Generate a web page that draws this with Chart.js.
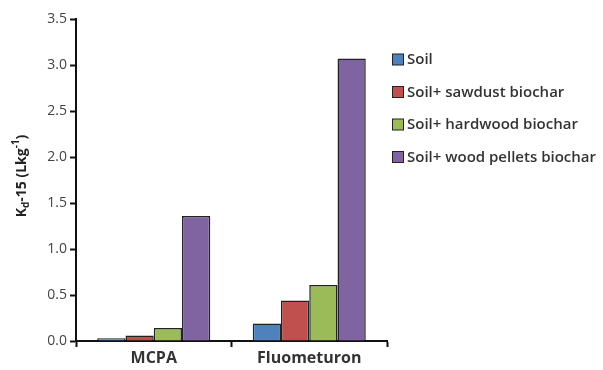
<!DOCTYPE html>
<html>
<head>
<meta charset="utf-8">
<script src="https://cdn.jsdelivr.net/npm/chart.js@4"></script>
<style>
  html, body { margin: 0; padding: 0; background: #fff; }
  #wrap { width: 603px; height: 370px; }
</style>
</head>
<body>
<div id="wrap"><canvas id="kd-chart"></canvas></div>
<script>
var herbicides = ['MCPA', 'Fluometuron'];

var soil = [0.03, 0.19];
var soil_sawdust = [0.06, 0.44];
var soil_hardwood = [0.14, 0.61];
var soil_pellets = [1.36, 3.07];

var series_names = ['Soil', 'Soil+ sawdust biochar', 'Soil+ hardwood biochar', 'Soil+ wood pellets biochar'];
var series_colors = ['#4F81BD', '#C0504D', '#9BBB59', '#8064A2'];

var font_family = '"Open Sans", Lato, sans-serif';

// y axis title with subscript d and superscript -1, drawn rotated
var axisTitle = {
   id: 'axisTitle',
   afterDraw: function (chart) {
      var ctx = chart.ctx;
      var parts = [
         { t: 'K', size: 14, dy: 0 },
         { t: 'd', size: 10, dy: 4 },
         { t: '-15 (Lkg', size: 14, dy: 0 },
         { t: '-1', size: 10, dy: -6 },
         { t: ')', size: 14, dy: 0 }
      ];
      ctx.save();
      var total = 0;
      parts.forEach(function (p) {
         ctx.font = 'bold ' + p.size + 'px ' + font_family;
         p.w = ctx.measureText(p.t).width;
         total += p.w;
      });
      ctx.translate(22, 176);
      ctx.rotate(-Math.PI / 2);
      ctx.fillStyle = '#222';
      ctx.textBaseline = 'middle';
      var x = -total / 2;
      parts.forEach(function (p) {
         ctx.font = 'bold ' + p.size + 'px ' + font_family;
         ctx.fillText(p.t, x, p.dy);
         x += p.w;
      });
      ctx.restore();
   }
};

// legend on the right, one row per series
var sideLegend = {
   id: 'sideLegend',
   afterDraw: function (chart) {
      var ctx = chart.ctx;
      ctx.save();
      ctx.font = '600 15px ' + font_family;
      ctx.textBaseline = 'middle';
      chart.data.datasets.forEach(function (ds, i) {
         var y = 60 + i * 32.5;
         ctx.fillStyle = ds.backgroundColor;
         ctx.fillRect(392.5, y - 6, 11, 11);
         ctx.strokeStyle = '#222';
         ctx.lineWidth = 1;
         ctx.strokeRect(392.5, y - 6, 11, 11);
         ctx.fillStyle = '#333';
         ctx.fillText(ds.label, 407, y);
      });
      ctx.restore();
   }
};

var datasets = [soil, soil_sawdust, soil_hardwood, soil_pellets].map(function (vals, i) {
   return {
      label: series_names[i],
      data: vals,
      backgroundColor: series_colors[i],
      borderColor: '#222',
      borderWidth: 1.5,
      borderSkipped: 'bottom',
      barPercentage: 1.0,
      categoryPercentage: 0.727
   };
});

var kdchart = new Chart(document.getElementById('kd-chart'), {
   type: 'bar',
   data: {
      labels: herbicides,
      datasets: datasets
   },
   options: {
      responsive: true,
      maintainAspectRatio: false,
      animation: false,
      layout: {
         padding: { top: 19, right: 216, bottom: 0, left: 0 }
      },
      plugins: {
         legend: { display: false },
         tooltip: { enabled: false }
      },
      scales: {
         x: {
            afterFit: function (scale) { scale.height = 29; },
            grid: {
               display: true,
               drawOnChartArea: false,
               offset: true,
               tickLength: 6,
               tickWidth: 2,
               color: '#111'
            },
            border: { color: '#111', width: 2 },
            ticks: {
               color: '#333',
               padding: 2,
               font: { family: font_family, size: 16, weight: 'bold' }
            }
         },
         y: {
            min: 0,
            max: 3.5,
            afterFit: function (scale) { scale.width = 76; },
            ticks: {
               stepSize: 0.5,
               color: '#444',
               padding: 3,
               font: { family: font_family, size: 14 },
               callback: function (v) { return v.toFixed(1); }
            },
            grid: {
               display: true,
               drawOnChartArea: false,
               tickLength: 6,
               tickWidth: 2,
               color: '#111'
            },
            border: { color: '#111', width: 2 }
         }
      }
   },
   plugins: [axisTitle, sideLegend]
});
</script>
</body>
</html>
